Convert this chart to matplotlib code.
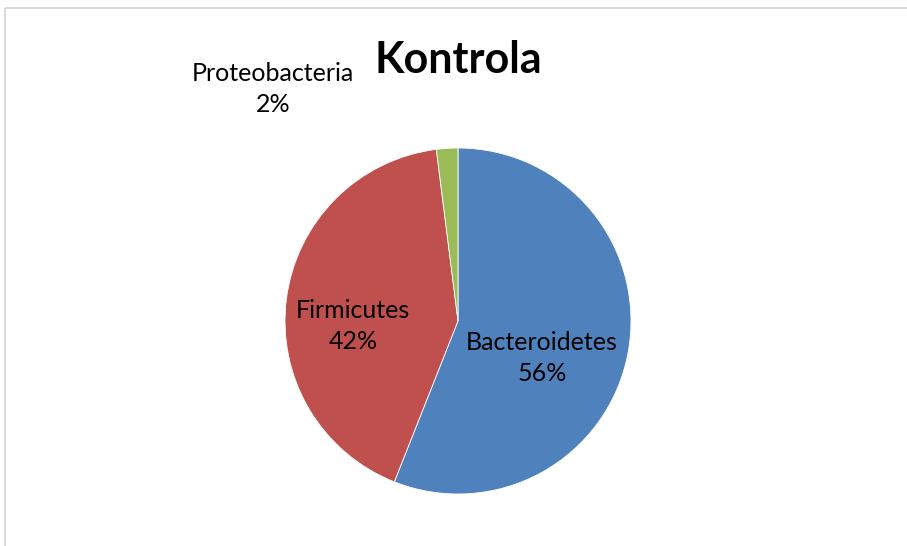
import matplotlib.pyplot as plt

# -------- DATA --------
phyla = ["Bacteroidetes", "Firmicutes", "Proteobacteria"]
shares = [56, 42, 2]
colors = ["#4F81BD", "#C0504D", "#9BBB59"]
title = "Kontrola"
# ----------------------

W, H = 907, 546
plt.rcParams["font.family"] = ["Lato", "DejaVu Sans"]

fig = plt.figure(figsize=(W / 100, H / 100), dpi=100)
ax = fig.add_axes([0, 0, 1, 1])

# chart frame (only top and left visible)
ax.plot([4.5, 4.5], [-5, H - 7.5], color="#D9D9D9", lw=1.5, solid_capstyle="butt")
ax.plot([4.5, W + 5], [H - 7.5, H - 7.5], color="#D9D9D9", lw=1.5, solid_capstyle="butt")

cx, cy, r = 458, H - 321, 173
ax.pie(shares, colors=colors, startangle=90, counterclock=False,
       center=(cx, cy), radius=r, frame=True,
       wedgeprops=dict(edgecolor="white", linewidth=0.6))
ax.set_xlim(0, W)
ax.set_ylim(0, H)
ax.set_aspect("equal")
ax.axis("off")

# data labels (Excel-style placement)
label_pos = [(542, H - 358), (353, H - 326), (273, H - 89)]
for name, val, (x, y) in zip(phyla, shares, label_pos):
    ax.text(x, y, f"{name}\n{val}%", ha="center", va="center",
            fontsize=18, color="black", linespacing=1.4)

ax.text(458, H - 60, title, ha="center", va="center",
        fontsize=31, fontweight="bold", color="black")

fig.savefig("out.png", dpi=100)
